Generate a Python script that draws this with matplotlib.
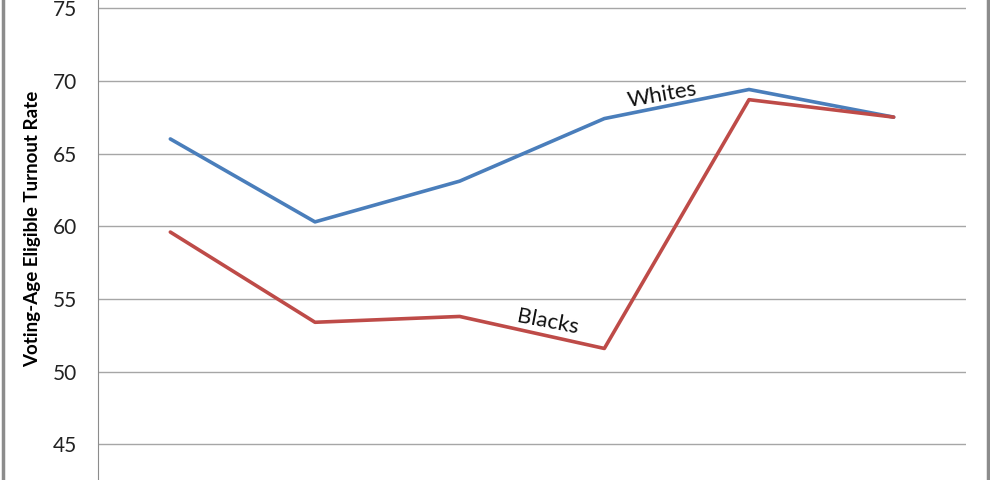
import matplotlib
matplotlib.use('Agg')
import matplotlib.pyplot as plt
from matplotlib.lines import Line2D

# data (x labels are cropped out of the reference)
positions = [0, 1, 2, 3, 4, 5]
whites = [66.0, 60.3, 63.1, 67.4, 69.4, 67.5]
blacks = [59.6, 53.4, 53.8, 51.6, 68.7, 67.5]
yticks = [45, 50, 55, 60, 65, 70, 75]

plt.rcParams['font.family'] = ['Lato', 'DejaVu Sans']

fig = plt.figure(figsize=(9.9, 4.8), dpi=100)
ax = fig.add_axes([98 / 990, 0, 868 / 990, 1])

ax.plot(positions, whites, color='#4a7ebb', lw=2.6, solid_capstyle='round', zorder=3)
ax.plot(positions, blacks, color='#be4b48', lw=2.6, solid_capstyle='round', zorder=3)

ax.set_xlim(-0.5, 5.5)
ax.set_ylim(42.56, 75.55)
ax.set_yticks(yticks)
ax.set_xticks([])
ax.yaxis.grid(True, color='#a6a6a6', lw=1)
ax.set_axisbelow(True)
ax.tick_params(axis='y', length=0, pad=15, labelsize=15, labelcolor='#222222')
for s in ['top', 'right', 'bottom']:
    ax.spines[s].set_visible(False)
ax.spines['left'].set_color('#8c8c8c')

ax.set_ylabel('Voting-Age Eligible Turnout Rate', fontsize=13.5, fontweight='bold')
ax.yaxis.set_label_coords(-0.066, 0.523)

ax.text(3.40, 69.0, 'Whites', rotation=10, fontsize=16, fontstyle='normal',
        ha='center', va='center', color='#111111')
ax.text(2.61, 53.4, 'Blacks', rotation=-11, fontsize=16, fontstyle='normal',
        ha='center', va='center', color='#111111')

# gray frame edges of the original picture
fig.add_artist(Line2D([2.5 / 990, 2.5 / 990], [0, 1], color='#8c8c8c', lw=2.5))
fig.add_artist(Line2D([987.5 / 990, 987.5 / 990], [0, 1], color='#8c8c8c', lw=2.5))

fig.savefig('out.png', dpi=100)
